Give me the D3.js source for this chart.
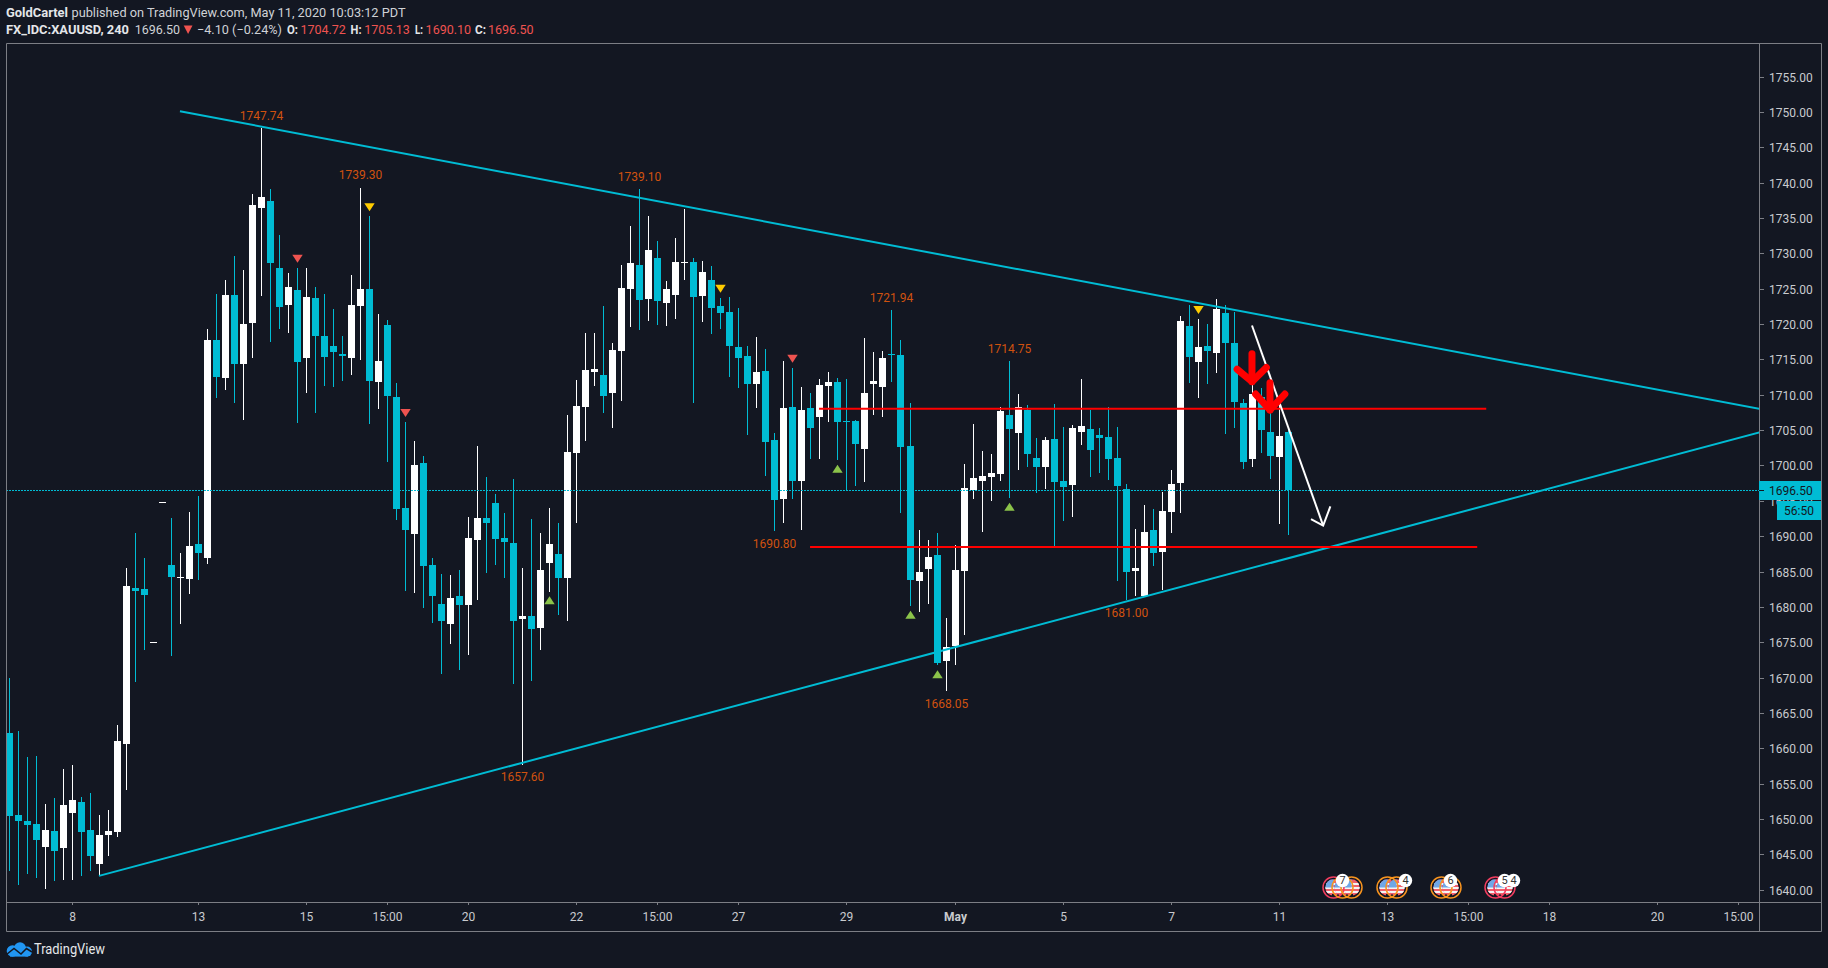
<!DOCTYPE html>
<html><head><meta charset="utf-8">
<script src="https://cdnjs.cloudflare.com/ajax/libs/d3/7.8.5/d3.min.js"></script>
<style>html,body{margin:0;padding:0;background:#131722;overflow:hidden}svg{display:block}text{font-family:Roboto,"Liberation Sans",sans-serif}</style>
</head><body><svg id="c" width="1828" height="968"></svg>
<script>
// ---------- candle data (4h XAUUSD) ----------
const opens=[1662.1,1650.6,1649.7,1649.3,1646.05,1648.3,1645.9,1650.9,1652.4,1648.4,1643.65,1647.7,1648.15,1660.6,1682.7,1682.55,1675,1694.9,1685.95,1684.1,1683.95,1688.9,1686.9,1717.8,1712.35,1724.15,1714.4,1720.15,1736.4,1737.4,1727.95,1722.7,1724.85,1715.2,1723.65,1718.3,1716.9,1715.8,1715.2,1722.6,1725,1711.8,1719.9,1709.7,1694,1690.3,1700.35,1685.9,1680.4,1677.55,1681.55,1680.3,1689.45,1692.6,1694.7,1689.75,1689.05,1678.25,1678.7,1677,1686.2,1687.5,1684.1,1701.75,1708.25,1713.25,1712.8,1710.25,1716.2,1724.95,1728.35,1723.55,1729.35,1723,1724.1,1728.65,1728.8,1724,1726.25,1722.55,1721.7,1716.75,1715.5,1711.55,1713.35,1703.6,1695.25,1708.3,1697.8,1708.15,1706.85,1711.25,1711.8,1706.3,1706.3,1702.35,1711.55,1711.1,1715.75,1715.6,1702.75,1683.65,1685.35,1687.35,1672.35,1674.45,1685.1,1696.55,1697.8,1698.35,1698.8,1707.15,1704.6,1707.85,1701.05,1699.8,1703.75,1697.8,1697.25,1704.75,1705.15,1704.3,1704.05,1701.05,1696.7,1685.1,1681.55,1690.9,1687.75,1693.4,1697.55,1719.75,1714.65,1716.9,1715.9,1721.55,1717.35,1708.85,1700.9,1709.75,1704.75,1701.2,1704.72];
const closes=[1650.45,1649.7,1649.15,1647.05,1648.4,1645.45,1652,1652.7,1648.15,1644.75,1647.7,1648.3,1661.05,1682.9,1682.3,1681.7,1675,1694.9,1684.2,1684.2,1688.6,1687.6,1717.8,1712.5,1724.15,1714.4,1720,1736.85,1738,1728.7,1722.4,1725.2,1714.6,1723.85,1718.3,1715.35,1716.1,1715.5,1722.7,1725,1712,1714.75,1709.85,1693.85,1690.9,1700.05,1685.8,1681.55,1678,1681.25,1680.3,1689.75,1692.6,1691.85,1689.65,1689.2,1678,1678.7,1676.9,1685.2,1688.9,1684.1,1701.95,1708.45,1713.5,1713.65,1709.85,1716.35,1725.1,1728.65,1723.4,1730.5,1723.25,1724.95,1728.8,1728.75,1723.85,1727.4,1722.3,1721.55,1716.9,1715.2,1711.55,1713.25,1703.35,1695.1,1708.15,1697.8,1707.85,1705.3,1711.4,1711.8,1706.15,1706.15,1703.05,1710.25,1711.95,1715.2,1715.6,1702.6,1683.8,1684.95,1687.05,1672.05,1674.35,1685.2,1696.8,1698.25,1698.5,1698.95,1707.7,1705.15,1708.3,1701.65,1699.8,1703.6,1697.65,1696.95,1705.3,1705.6,1702.2,1703.9,1700.9,1697.1,1684.95,1685.5,1690.6,1687.6,1693.55,1697.4,1720.45,1715.35,1716.75,1716.2,1722.15,1717.35,1709,1700.5,1710.1,1705,1701.35,1704.15,1696.5];
const highs=[1670,1662.4,1658.75,1658.9,1652.1,1653,1657.1,1657.65,1653.1,1653.7,1650.6,1651.25,1663.3,1685.5,1690.4,1686.9,1675,1694.9,1692.5,1687.6,1693.4,1695.7,1719.3,1724.3,1726.2,1729.6,1727.65,1738.4,1747.74,1739.15,1732.6,1727.25,1727.95,1727.95,1725.25,1724.25,1722.15,1718.3,1726.95,1739.3,1735.3,1721.45,1720.55,1711.65,1706.2,1703.45,1701.4,1686.9,1684.65,1684.5,1685.2,1692.75,1702.75,1698.4,1695.95,1693.3,1698.1,1685.55,1692.4,1690.45,1694,1691.85,1707.1,1712.1,1718.8,1718.75,1722.55,1717.35,1728.35,1733.9,1739.1,1735.3,1731.75,1726.1,1732.2,1736.3,1729.35,1728.95,1728.2,1723.7,1723.85,1722.3,1716.9,1718.2,1716.5,1704.6,1714.8,1713.8,1711.1,1710.25,1712.25,1713.25,1712.4,1712.25,1706.45,1718.05,1716.05,1716.2,1721.94,1717.75,1708.8,1690.9,1689.45,1690.45,1678.45,1688.75,1700.2,1705.85,1702.05,1701.65,1708.3,1714.75,1710.1,1708.55,1703.9,1704.05,1708.7,1705.45,1705.75,1712.2,1707.85,1705.3,1708.3,1705.45,1697.4,1691,1694.4,1693.85,1696.25,1699.35,1721.15,1722.7,1720.7,1720,1723.55,1722.7,1721.7,1709.4,1712.1,1710.95,1708.8,1708.55,1705.13];
const lows=[1642.7,1640.7,1642.2,1641.6,1640.1,1641.2,1641.35,1641.35,1641.95,1642.65,1641.95,1644.75,1647.4,1654.1,1669.35,1673.9,1675,1694.9,1673.05,1677.6,1681.85,1683.8,1686.1,1709.55,1710.7,1708.85,1706.45,1715.2,1724,1717.5,1719.3,1718.7,1706,1710.3,1707.45,1711.2,1711.1,1712,1712.8,1714.95,1705.85,1708,1700.5,1692.3,1682.25,1682,1679.85,1677.7,1670.5,1674.75,1671.05,1673.2,1681,1684.75,1685.9,1684.1,1669.1,1657.6,1669.55,1673.9,1682.1,1678.85,1678,1691.85,1703.45,1711.25,1707.45,1705.3,1709.1,1719.6,1719.15,1720.45,1719.9,1719.75,1720.7,1726.25,1708.85,1720.3,1718.6,1719.3,1712.5,1710.95,1704.3,1708.15,1698.5,1690.75,1691.85,1695.25,1690.9,1700.9,1700.9,1706.15,1700.8,1696.55,1697.1,1697.65,1707.15,1706.85,1711.8,1693.3,1680.15,1679.3,1680.4,1671.8,1668.05,1671.8,1676,1695.25,1690.6,1695,1697.8,1695.4,1699.35,1699.8,1696.1,1696.7,1688.6,1692.15,1692.7,1702.9,1698.35,1698.95,1697.95,1683.65,1681,1681.55,1681.55,1685.8,1682.4,1690.45,1693.3,1711.65,1709.55,1711.55,1713.1,1704.45,1705.3,1699.5,1699.8,1701.75,1698.1,1691.75,1690.1];

const priceTicks=d3.range(1640,1756,5);
const timeTickIdx=[7,21,33,42,51,63,72,81,93,105,117,129,141,153,162,171,183,192];
const timeTickLabels=["8","13","15","15:00","20","22","15:00","27","29","May","5","7","11","13","15:00","18","20","15:00"];
const lastPrice=1696.5;

// drawn annotations, each end as [bar index, price]
const trendUpper=[[18.92,1750.1],[194.2,1708]];
const trendLower=[[9.93,1641.95],[194.2,1704.67]];
const redLineTop=[[89.85,1708.03],[163.9,1708.03]];
const redLineBottom=[[88.85,1688.47],[162.9,1688.47]];
const whiteArrowShaft=[[137.9,1719.8],[145.8,1691.5]];
const whiteArrowHead=[[144.45,1692.4],[145.8,1691.5],[146.6,1694.2]];
const redArrow1Shaft=[[137.9,1715.8],[137.9,1711.85]];
const redArrow1Head=[[136.25,1713.6],[137.9,1711.85],[139.5,1713.85]];
const redArrow2Shaft=[[139.9,1711.7],[139.9,1707.85]];
const redArrow2Head=[[138.3,1710.1],[139.9,1707.85],[141.55,1710.1]];

const pivotLabels=["1747.74","1739.30","1739.10","1721.94","1714.75","1690.80","1657.60","1668.05","1681.00"];
const pivotIdx=[28,39,70,98,111,85,57,104,124];
const pivotPrice=[1749.46,1741.15,1740.85,1723.7,1716.5,1688.94,1655.94,1666.3,1679.2];

const triIdx=[32,40,44,60,79,87,92,100,103,111,132];
const triPrice=[1729.3,1736.6,1707.5,1680.85,1725.05,1715.15,1699.45,1678.8,1670.4,1694.1,1722.05];
const triKind=["sellRed","sellGold","sellRed","buy","sellGold","sellRed","buy","buy","buy","buy","sellGold"];

const eventIdx=[147,148,149,153,154,159,160,165,166];
const eventKind=["high","mid","mid","mid","mid","mid","mid","high","high"];
const badgeIdx=[148,155,160,166,167];
const badgeText=["7","4","6","5","4"];

const headerPublisher="GoldCartel";
const headerPublished="published on TradingView.com, May 11, 2020 10:03:12 PDT";
const headerSymbol="FX_IDC:XAUUSD, 240";
const headerLast="1696.50";
const headerChange="\u22124.10 (\u22120.24%)";
const ohlcKeys=["O:","H:","L:","C:"];
const ohlcVals=["1704.72","1705.13","1690.10","1696.50"];

// ---------- style ----------
const BG="#131722",TEAL="#00bcd4",RED="#ff0000",BORDER="#7c7e85",TXT="#c9cbcf",LBL="#d0520f";
const triCol={sellRed:"#ef5350",sellGold:"#ffcc00",buy:"#8bc34a"};
const evCol={high:"#f23d5f",mid:"#f7931e"};

const L=6,R=1759,T=43,B=902,OUTR=1821,OUTB=931;
const xs=d3.scaleLinear().domain([0,142]).range([8.505,8.505+9.01*142]).interpolate(d3.interpolateRound);
const y=d3.scaleLinear().domain([1640,1755]).range([889.65,76.6]);
const yAxisScale=y.copy().interpolate(d3.interpolateRound);
const ry=v=>Math.round(y(v));
const xsRaw=d3.scaleLinear().domain([0,142]).range([9.5,9.5+9.01*142]);
const line=d3.line().x(d=>xsRaw(d[0])).y(d=>y(d[1]));

const svg=d3.select("#c");
svg.append("rect").attr("width",1828).attr("height",968).attr("fill",BG);
const defs=svg.append("defs");
defs.append("clipPath").attr("id","plot").append("rect").attr("x",L+1).attr("y",T+1).attr("width",R-L-1).attr("height",B-T-1);
defs.append("clipPath").attr("id","flagclip").append("circle").attr("r",8.2);

const plot=svg.append("g").attr("clip-path","url(#plot)");
const idx=d3.range(opens.length);
const col=i=>closes[i]<opens[i]?TEAL:"#ffffff";

plot.append("g").selectAll("rect").data(idx).join("rect")
 .attr("x",i=>xs(i)).attr("width",1)
 .attr("y",i=>ry(highs[i])).attr("height",i=>Math.max(0,ry(lows[i])-ry(highs[i])))
 .attr("fill",col);
plot.append("g").selectAll("rect").data(idx).join("rect")
 .attr("x",i=>xs(i)-3).attr("width",7)
 .attr("y",i=>ry(Math.max(opens[i],closes[i])))
 .attr("height",i=>Math.max(1,ry(Math.min(opens[i],closes[i]))-ry(Math.max(opens[i],closes[i]))))
 .attr("fill",col);

// triangles
const triPath=(k)=>k==="buy"?"M0,-4.5L5.2,3.5L-5.2,3.5Z":"M-5.2,-3.5L5.2,-3.5L0,4.5Z";
plot.append("g").selectAll("path").data(triIdx).join("path")
 .attr("transform",(d,i)=>`translate(${xs(d)+0.5},${y(triPrice[i])})`)
 .attr("d",(d,i)=>triPath(triKind[i])).attr("fill",(d,i)=>triCol[triKind[i]]);

// last price line
plot.append("line").attr("x1",L).attr("x2",R).attr("y1",ry(lastPrice)+0.5).attr("y2",ry(lastPrice)+0.5)
 .attr("stroke",TEAL).attr("stroke-width",1).attr("stroke-dasharray","2 1");

// trend lines
for(const t of [trendUpper,trendLower]) plot.append("path").attr("d",line(t)).attr("fill","none").attr("stroke",TEAL).attr("stroke-width",2);
for(const t of [redLineTop,redLineBottom]) plot.append("path").attr("d",line(t)).attr("fill","none").attr("stroke",RED).attr("stroke-width",2);
for(const t of [whiteArrowShaft,whiteArrowHead]) plot.append("path").attr("d",line(t)).attr("fill","none").attr("stroke","#fff").attr("stroke-width",2);
for(const t of [redArrow1Shaft,redArrow1Head,redArrow2Shaft,redArrow2Head]) plot.append("path").attr("d",line(t)).attr("fill","none").attr("stroke",RED).attr("stroke-width",7).attr("stroke-linecap","round").attr("stroke-linejoin","round");

// pivot labels
plot.append("g").selectAll("text").data(pivotLabels).join("text")
 .attr("x",(d,i)=>xs(pivotIdx[i])+0.5).attr("y",(d,i)=>y(pivotPrice[i]))
 .attr("text-anchor","middle").attr("dominant-baseline","central")
 .attr("font-size",12).attr("fill",LBL).text(d=>d);

// event markers
const ev=plot.append("g");
const ey=887.5;
eventIdx.forEach(i=>{
 const g=ev.append("g").attr("transform",`translate(${xs(i)+0.5},${ey})`);
 const f=g.append("g").attr("clip-path","url(#flagclip)");
 f.append("rect").attr("x",-9).attr("y",-9).attr("width",18).attr("height",18).attr("fill","#f2606c");
 [-4.5,-0.5,3.5].forEach(s=>f.append("rect").attr("x",-9).attr("y",s).attr("width",18).attr("height",2).attr("fill","#f4f4f4"));
 f.append("rect").attr("x",-9).attr("y",-9).attr("width",9).attr("height",9).attr("fill","#4a90e2");
 for(let a=-7;a<0;a+=2)for(let b=-7;b<0;b+=2) f.append("rect").attr("x",a).attr("y",b).attr("width",1).attr("height",1).attr("fill","#dfeaf8");
 g.append("rect").attr("x",-1.5).attr("y",6.5).attr("width",3).attr("height",2).attr("fill","#131722");
});
eventIdx.forEach((i,n)=>{
 ev.append("circle").attr("cx",xs(i)+0.5).attr("cy",ey).attr("r",10.5).attr("fill","none").attr("stroke",evCol[eventKind[n]]).attr("stroke-width",1.5);
});
badgeIdx.forEach((i,n)=>{
 ev.append("circle").attr("cx",xs(i)+0.5).attr("cy",880.5).attr("r",6.7).attr("fill","#fff");
});
badgeIdx.forEach((i,n)=>{
 ev.append("text").attr("x",xs(i)+0.5).attr("y",880.5).attr("text-anchor","middle").attr("dominant-baseline","central")
  .attr("font-size",11).attr("fill","#333").text(badgeText[n]);
});

// frame
const frame=svg.append("g").attr("fill","none").attr("stroke",BORDER);
frame.append("path").attr("d",`M${L+.5},${T+.5}H${OUTR+.5}V${OUTB+.5}H${L+.5}Z`);
frame.append("path").attr("d",`M${R+.5},${T+.5}V${OUTB+.5}`);
frame.append("path").attr("d",`M${L+.5},${B+.5}H${OUTR+.5}`);

// price axis (the 1695.00 label sits behind the last-price badge, as in the reference)
const ya=svg.append("g").attr("transform",`translate(${R},0)`).call(d3.axisRight(yAxisScale).tickValues(priceTicks).tickSize(5).tickPadding(5).tickFormat(d3.format(".2f")));
ya.select(".domain").remove();
ya.selectAll("line").attr("stroke",BORDER);
ya.selectAll("text").attr("fill",TXT).attr("font-size",12).attr("y",null).attr("transform","translate(0,1)").style("font-family","Roboto");

// time axis
const xa=svg.append("g").attr("transform",`translate(0,${B})`).call(d3.axisBottom(xs).tickValues(timeTickIdx).tickSize(3).tickPadding(7).tickFormat((d,i)=>timeTickLabels[i]));
xa.select(".domain").remove();
xa.selectAll("line").attr("stroke",BORDER);
xa.selectAll("text").attr("fill",TXT).attr("font-size",12).attr("font-weight",(d,i)=>timeTickLabels[i]==="May"?700:400).style("font-family","Roboto");

// last price badges
const lp=svg.append("g");
lp.append("rect").attr("x",R).attr("y",481).attr("width",OUTR-R).attr("height",19).attr("fill",TEAL);
lp.append("line").attr("x1",R).attr("x2",R+5).attr("y1",490.5).attr("y2",490.5).attr("stroke",BG);
lp.append("text").attr("x",R+10).attr("y",490.5).attr("dominant-baseline","central").attr("font-size",12).attr("fill",BG).text(d3.format(".2f")(lastPrice));
lp.append("rect").attr("x",1777).attr("y",501).attr("width",OUTR-1777).attr("height",19).attr("fill",TEAL);
lp.append("text").attr("x",1799).attr("y",510.5).attr("text-anchor","middle").attr("dominant-baseline","central").attr("font-size",12).attr("fill",BG).text("56:50");

// header
function h(x,yy,t,o={}){return svg.append("text").attr("x",x).attr("y",yy).attr("font-size",o.s||13).attr("font-weight",o.b?700:400).attr("fill",o.c||"#cfd2d6").attr("textLength",o.w||null).attr("lengthAdjust","spacingAndGlyphs").text(t);}
h(6,17,headerPublisher,{b:1,c:"#e4e6e9",w:62});
h(71.5,17,headerPublished,{w:334});
h(6,34,headerSymbol,{b:1,c:"#e4e6e9",w:123});
h(134.7,34,headerLast,{w:45.3});
svg.append("path").attr("d","M183.7,25.5H192.5L188.1,34Z").attr("fill","#ef5350");
h(197,34,headerChange,{w:85});
const keyX=[287,350.6,415,475],valX=[300.4,364.3,425.6,488],keyW=[11,11,8,11];
ohlcKeys.forEach((k,i)=>{h(keyX[i],34,k,{b:1,c:"#e4e6e9",w:keyW[i]});h(valX[i],34,ohlcVals[i],{c:"#ef5350",w:45.5});});

// logo
const logo=svg.append("g").attr("fill","#2196f3");
logo.append("circle").attr("cx",12.5).attr("cy",951).attr("r",5.8);
logo.append("circle").attr("cx",20).attr("cy",948.3).attr("r",6);
logo.append("circle").attr("cx",27).attr("cy",951.6).attr("r",5);
logo.append("rect").attr("x",10).attr("y",950).attr("width",18).attr("height",6.6);
svg.append("path").attr("d","M6.5,954.5L14,948.5L21,954L26.5,948.5L32,952").attr("fill","none").attr("stroke",BG).attr("stroke-width",1.5);
svg.append("text").attr("x",34).attr("y",954).attr("font-size",14).attr("fill","#e6e8ea").attr("textLength",71).attr("lengthAdjust","spacingAndGlyphs").text("TradingView");
</script></body></html>
